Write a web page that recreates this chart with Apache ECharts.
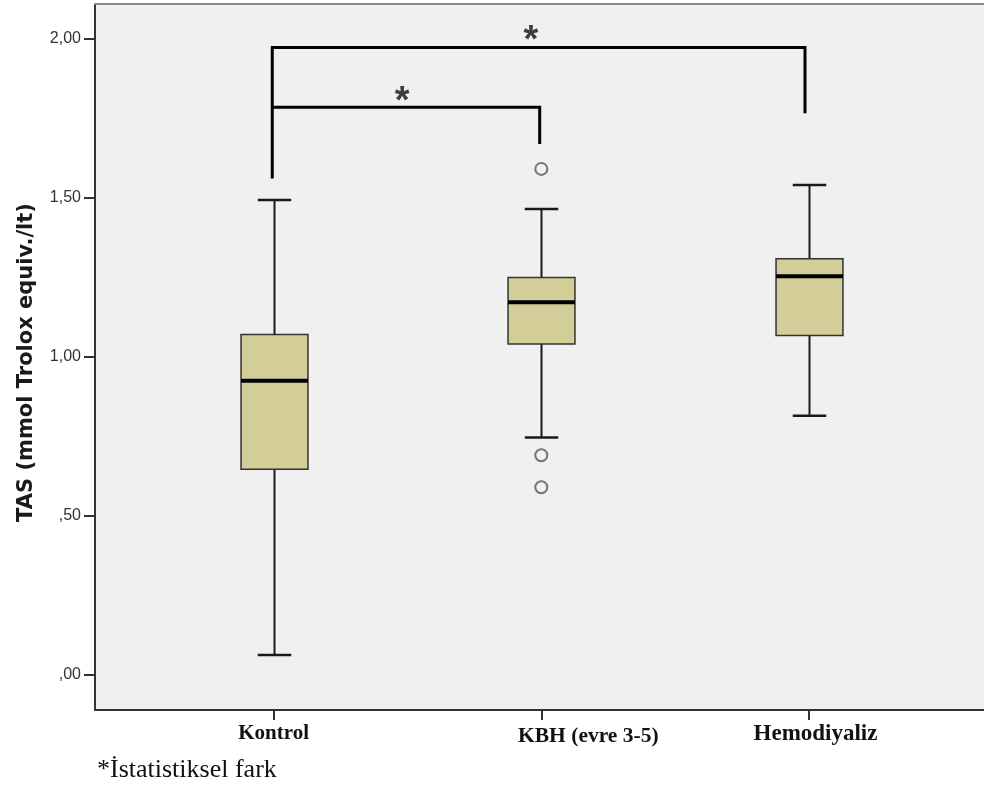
<!DOCTYPE html>
<html><head><meta charset="utf-8">
<script src="https://cdn.jsdelivr.net/npm/echarts@6/dist/echarts.min.js"></script>
<style>html,body{margin:0;padding:0;background:#fff;overflow:hidden}#c{width:984px;height:789px}</style>
</head><body><div id="c"></div>
<script>
// ---- data ----
const categories = ['Kontrol', 'KBH (evre 3-5)', 'Hemodiyaliz'];
const whiskerLow  = [0.061, 0.746, 0.814];
const q1          = [0.646, 1.040, 1.067];
const median      = [0.924, 1.171, 1.253];
const q3          = [1.070, 1.249, 1.308];
const whiskerHigh = [1.493, 1.465, 1.540];
const outlierGroup  = [2, 2, 2];           // 1-based category position
const outlierValues = [1.591, 0.690, 0.589];
const yTickValues = [0, 0.5, 1, 1.5, 2];
const yTickLabels = [',00', ',50', '1,00', '1,50', '2,00'];
const yTitle = 'TAS (mmol Trolox equiv./lt)';
const footnote = '*İstatistiksel fark';
// significance brackets (category position, value)
const bracketOuter = [[0.995, 1.561], [0.995, 1.973], [2.985, 1.973], [2.985, 1.766]];
const bracketInner = [[0.995, 1.785], [1.994, 1.785], [1.994, 1.669]];
const starMarks = [[1.961, 2.022], [1.480, 1.830]];

const BOX_W = 0.25;
const X_MIN = 0.3328, X_MAX = 3.6537;
const chart = echarts.init(document.getElementById('c'), null, {renderer: 'canvas'});

const boxData = categories.map((c, i) => [i + 1, whiskerLow[i], q1[i], median[i], q3[i], whiskerHigh[i]]);
const outlierData = outlierValues.map((v, i) => [outlierGroup[i], v]);

function renderBox(params, api) {
  const x = api.value(0);
  const lo = api.coord([x, api.value(1)]);
  const b1 = api.coord([x, api.value(2)]);
  const md = api.coord([x, api.value(3)]);
  const b3 = api.coord([x, api.value(4)]);
  const hi = api.coord([x, api.value(5)]);
  const w = api.size([BOX_W, 0])[0];
  const cx = Math.round(lo[0]) + 0.5;
  const half = w / 2, capHalf = w / 4;
  const ws = {stroke: '#1a1a1a', lineWidth: 2};
  return {type: 'group', children: [
    {type: 'line', shape: {x1: cx, y1: hi[1], x2: cx, y2: b3[1]}, style: ws},
    {type: 'line', shape: {x1: cx, y1: b1[1], x2: cx, y2: lo[1]}, style: ws},
    {type: 'line', shape: {x1: cx - capHalf, y1: hi[1], x2: cx + capHalf, y2: hi[1]}, style: {stroke: '#1a1a1a', lineWidth: 2.5}},
    {type: 'line', shape: {x1: cx - capHalf, y1: lo[1], x2: cx + capHalf, y2: lo[1]}, style: {stroke: '#1a1a1a', lineWidth: 2.5}},
    {type: 'rect', shape: {x: cx - half, y: b3[1], width: w, height: b1[1] - b3[1]},
      style: {fill: '#d3ce97', stroke: '#333', lineWidth: 1.5}},
    {type: 'line', shape: {x1: cx - half, y1: md[1], x2: cx + half, y2: md[1]}, style: {stroke: '#000', lineWidth: 4}}
  ]};
}

const xLabelMap = {
  1: '{k|' + categories[0] + '}',
  2: '{b|' + categories[1] + '}',
  3: '{h|' + categories[2] + '}'
};

const option = {
  backgroundColor: '#ffffff',
  animation: false,
  grid: {left: 95, right: 0, top: 4, bottom: 79, show: true, backgroundColor: '#f0f0f0', borderWidth: 0},
  xAxis: [{
    type: 'value', min: X_MIN, max: X_MAX,
    splitLine: {show: false},
    axisLine: {show: true, onZero: false, lineStyle: {color: '#333', width: 2}},
    axisTick: {show: true, customValues: [1, 2, 3], length: 10, lineStyle: {color: '#333', width: 2}},
    axisLabel: {
      customValues: [1, 2, 3], margin: 13,
      formatter: v => xLabelMap[v] || '',
      rich: {
        k: {fontFamily: 'Liberation Serif', fontWeight: 'bold', fontSize: 21, color: '#111'},
        b: {fontFamily: 'Liberation Serif', fontWeight: 'bold', fontSize: 21.5, color: '#111', padding: [2, 0, 0, 94]},
        h: {fontFamily: 'Liberation Serif', fontWeight: 'bold', fontSize: 23, color: '#111', padding: [0, 0, 0, 13]}
      }
    }
  }, {
    type: 'value', position: 'top', min: X_MIN, max: X_MAX,
    splitLine: {show: false}, axisTick: {show: false}, axisLabel: {show: false},
    axisLine: {show: true, onZero: false, lineStyle: {color: '#8c8c8c', width: 2}}
  }],
  yAxis: {
    type: 'value', min: -0.112, max: 2.110,
    splitLine: {show: false},
    axisLine: {show: true, onZero: false, lineStyle: {color: '#333', width: 2}},
    axisTick: {show: true, customValues: yTickValues, length: 11, lineStyle: {color: '#333', width: 2}},
    axisLabel: {
      customValues: yTickValues, margin: 14,
      formatter: v => { const i = yTickValues.findIndex(t => Math.abs(t - v) < 1e-9); return i >= 0 ? yTickLabels[i] : ''; },
      fontFamily: 'Liberation Sans', fontSize: 16, color: '#333'
    },
    name: yTitle, nameLocation: 'middle', nameGap: 58,
    nameTextStyle: {fontFamily: 'DejaVu Sans', fontWeight: 'bold', fontSize: 21, color: '#1a1a1a', padding: [0, 11, 0, 0]}
  },
  series: [
    {type: 'custom', name: 'box', renderItem: renderBox, data: boxData, encode: {x: 0, y: [1, 2, 3, 4, 5]}, z: 3},
    {type: 'scatter', name: 'outliers', data: outlierData, symbol: 'circle', symbolSize: 12,
      itemStyle: {color: '#f0f0f0', borderColor: '#555', borderWidth: 2}, z: 4},
    {type: 'line', data: bracketOuter, symbol: 'none', lineStyle: {color: '#000', width: 3, join: 'miter', cap: 'butt'}, z: 5},
    {type: 'line', data: bracketInner, symbol: 'none', lineStyle: {color: '#000', width: 3, join: 'miter', cap: 'butt'}, z: 5},
    {type: 'scatter', data: starMarks, symbolSize: 0, z: 6,
      label: {show: true, position: 'inside', formatter: '*', fontFamily: 'Liberation Sans', fontWeight: 'bold', fontSize: 38, color: '#111', offset: [0, 10]}}
  ],
  graphic: [
    {type: 'text', left: 97, top: 757, style: {text: footnote, fontFamily: 'Liberation Serif', fontSize: 26, fill: '#111'}}
  ]
};
chart.setOption(option);
</script>
</body></html>
